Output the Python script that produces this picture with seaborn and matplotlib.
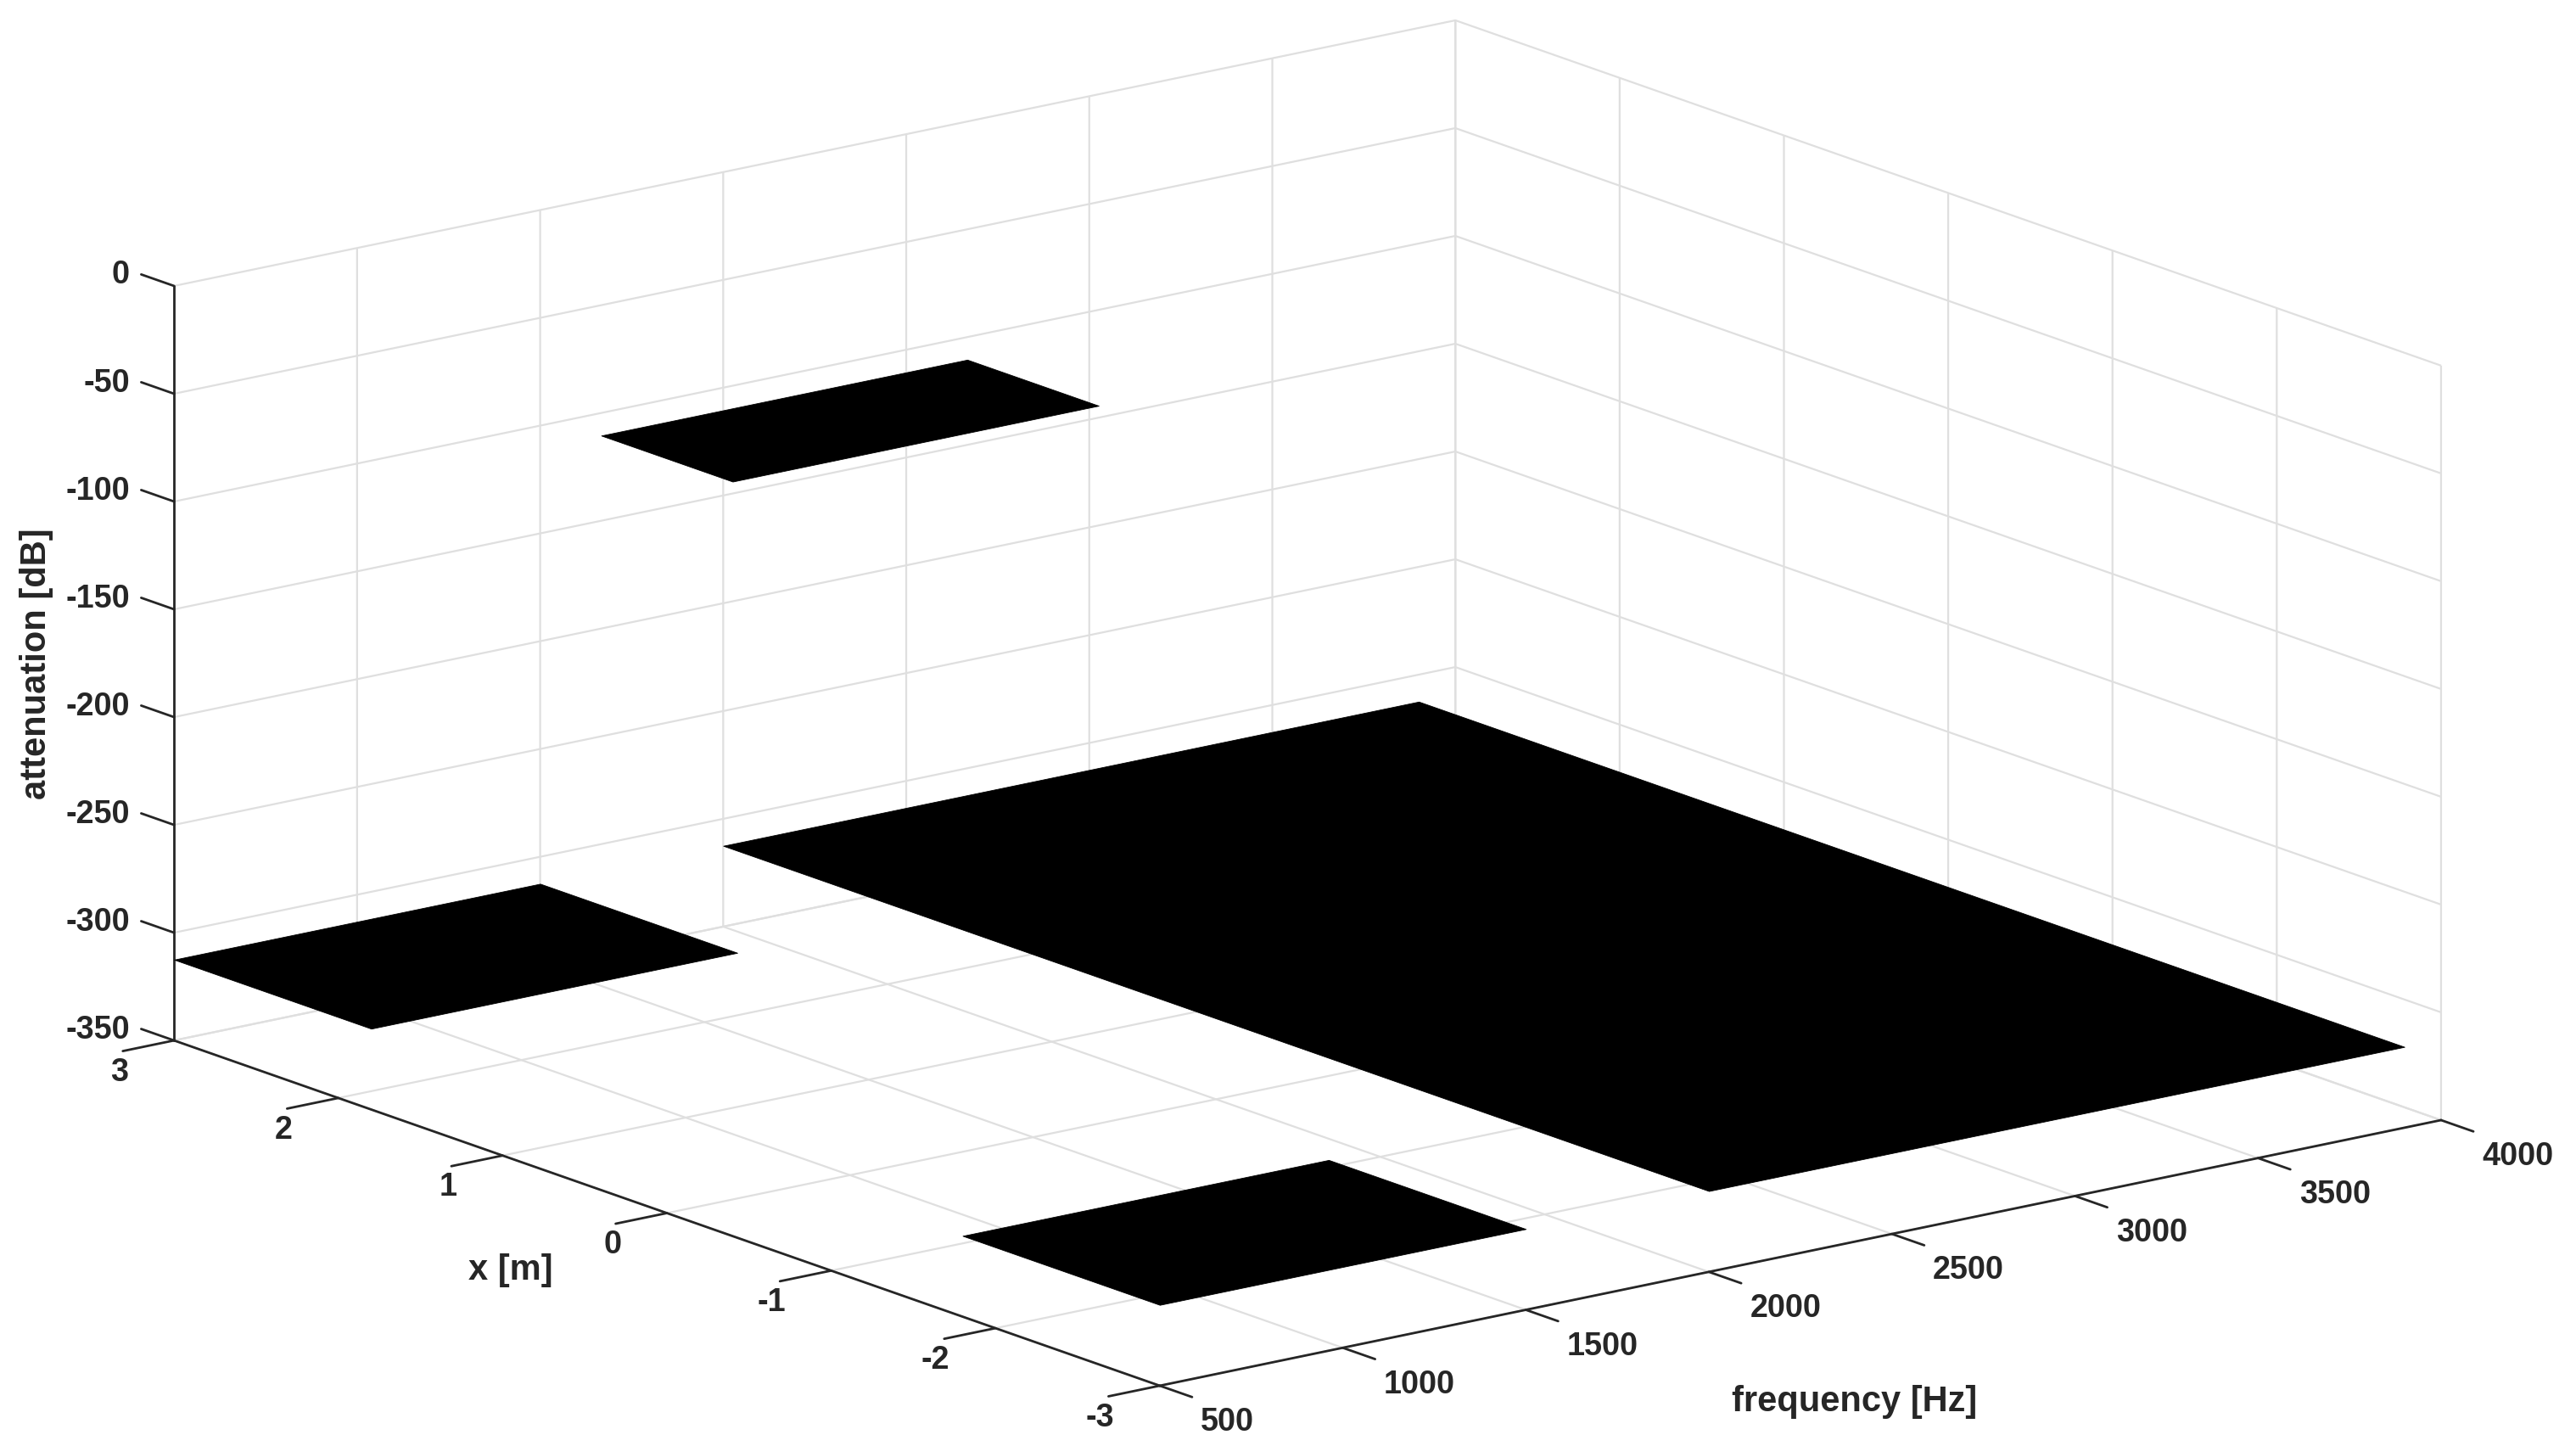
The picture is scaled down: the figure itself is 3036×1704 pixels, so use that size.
import matplotlib
matplotlib.use("Agg")
import matplotlib.pyplot as plt
import numpy as np
import seaborn as sns

# === values ===
freq_ticks = [500, 1000, 1500, 2000, 2500, 3000, 3500, 4000]
x_ticks = [-3, -2, -1, 0, 1, 2, 3]
atten_ticks = [-350, -300, -250, -200, -150, -100, -50, 0]

# black stop bands: frequency edges, x edges, attenuation level
band_freq = [[2000, 3900], [500, 1500], [500, 1500], [500, 1500]]
band_x = [[-3, 3], [-3, -1.8], [1.8, 3], [-0.4, 0.4]]
band_level = [-312.5, -312.5, -312.5, 0.0]

GRID = "#dfdfdf"
DARK = "#262626"

sns.set_theme(style="white")
plt.rcParams["font.family"] = ["Liberation Sans", "DejaVu Sans"]

W, H = 3036, 1704
fig = plt.figure(figsize=(W / 200, H / 200), dpi=200, facecolor="white")

# square 3d axes, placed in pixels so the box lands where the original one is
S = 2765
cx, cy = 1541, 875.5
ax = fig.add_axes(
    [(cx - 0.5135 * S) / W, (cy - 0.5135 * S) / H, S / W, S / H],
    projection="3d", proj_type="ortho", facecolor="none",
)
ax.view_init(elev=15.63, azim=-127.57)
ax.set_box_aspect((1, 1, 0.4846))

for f_edges, x_edges, level in zip(band_freq, band_x, band_level):
    F, X = np.meshgrid(f_edges, x_edges)
    ax.plot_surface(F, X, np.full(F.shape, level), color="black", shade=False,
                    linewidth=0.3, edgecolor="black")

ax.set_xlim(500, 4000, view_margin=0)
ax.set_ylim(-3, 3, view_margin=0)
ax.set_zlim(-350, 0, view_margin=0)
ax.set_xticks(freq_ticks)
ax.set_yticks(x_ticks)
ax.set_zticks(atten_ticks)
ax.set_xticklabels([])
ax.set_yticklabels([])
ax.set_zticklabels([])
ax.zaxis.set_ticks_position("upper")

# negative factor: mplot3d would otherwise point these ticks into the box
for axis, outward in [(ax.xaxis, -0.41), (ax.yaxis, -0.5), (ax.zaxis, 0)]:
    axis.set_pane_color((1, 1, 1, 0))
    axis.pane.set_edgecolor("none")
    axis._axinfo["grid"].update(color=GRID, linewidth=0.8, linestyle="-")
    axis._axinfo["tick"].update(inward_factor=0, outward_factor=outward, linewidth={True: 1.0, False: 1.0})
    axis._axinfo["axisline"].update(color=DARK, linewidth=1.0)
    axis.line.set_color(DARK)
    axis.line.set_linewidth(1.0)
ax.tick_params(colors=DARK, width=1.0)

# z ticks run along the x direction here, which mplot3d has no setting for
for z in atten_ticks:
    ax.plot([500, 500], [3, 3.2], [z, z], color=DARK, linewidth=1.0)

# tick labels sit a fixed way off their axis, like the original
style = dict(fontsize=13.6, fontweight="bold", color=DARK)
for f in freq_ticks:
    ax.text(f, -3.25, -360.4, str(f), ha="left", va="center", **style)
for x in x_ticks:
    ax.text(375, x, -360.4, str(x), ha="right", va="center", **style)
for z in atten_ticks:
    ax.text(500, 3.27, z - 2.3, str(z), ha="right", va="center", **style)

label_style = dict(fontsize=15, fontweight="bold", color=DARK, ha="center", va="center")
fig.text(1129 / 1568, 1 - 853 / 880, "frequency [Hz]", **label_style)
fig.text(311 / 1568, 1 - 773 / 880, "x [m]", **label_style)
fig.text(22 / 1568, 1 - 404 / 880, "attenuation [dB]", rotation=90, **label_style)

fig.savefig("out.png", dpi=200, facecolor="white")
